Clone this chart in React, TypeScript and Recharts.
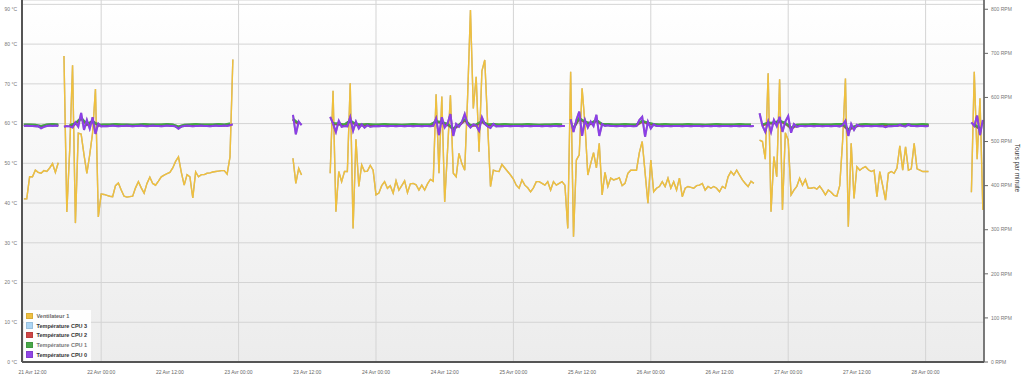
import React from "react";
import { LineChart, Line, XAxis, YAxis, CartesianGrid } from "recharts";

const _ = null;

// samples start 21 Avr 10:30, hours counted from 21 Avr 00:00
const START_HOUR = 10.5;
const FINE_STEP = 0.5; // fan + CPU 0
const COARSE_STEP = 1; // CPU 1..3

const fanRpm = [
  370, 370, 420, 420, 435, 430, 428, 434, 432, 440, 450, 430, 452, _,
  694, 340, 480, 673, 315, 519, 517, 470, 428, 470, 520, 619, 329, 381,
  380, 378, 376, 375, 400, 406, 390, 376, 374, 375, 376, 395, 409, 395, 383, 405, 419, 405, 401, 410,
  420, 424, 427, 430, 440, 455, 465, 430, 401, 425, 420, 372, 431, 420, 425, 425, 428, 429, 431, 432,
  433, 434, 434, 426, 465, 686,
  _, _, _, _, _, _, _, _, _, _, _, _, _, _, _, _, _, _, _, _,
  462, 405, 439, 424,
  _, _, _, _, _, _, _, _, _,
  428, 615, 341, 432, 409, 432, 432, 632, 303, 505, 398, 447, 432, 433, 446, 435, 379, 383, 400, 409,
  394, 400, 383, 411, 390, 400, 411, 384, 404, 405, 402, 390, 401, 390, 404, 414, 410, 607, 428, 602,
  363, 480, 605, 428, 420, 473, 450, 435, 600, 798, 575, 647, 477, 660, 685, 540, 398, 435, 433, 432,
  448, 440, 432, 424, 415, 401, 394, 413, 401, 395, 386, 395, 409, 409, 405, 401, 409, 390, 409, 401,
  405, 409, 401, 303,
  658, 284, 458, 470, 621, 540, 424, 450, 475, 440, 496, 379, 430, 398, 417, 413, 415, 418, 400, 405,
  428, 435, 435, 435, 475, 500, 430, 360, 458, 386, 394, 398, 409, 398, 417, 394, 409, 390, 417, 375,
  394, 398, 396, 394, 400, 401, 405, 390, 398, 394, 398, 394, 386, 398, 394, 420, 432, 424, 435, 424,
  413, 405, 398, 410, 405, _,
  503, 500, 460, 655, 341, 466, 420, 641, 345, 520, 503, 379, 390, 398, 417, 401, 414, 394, 394, 396,
  392, 399, 390, 379, 390, 385, 378, 376, 400, 500, 643, 307, 496, 371, 443, 435, 440, 443, 436, 432,
  435, 375, 432, 400, 367, 428, 432, 428, 440, 490, 435, 488, 435, 438, 496, 438, 435, 432, 432, 432,
  _, _, _, _, _, _, _, _, _, _, _, _, _, _,
  385, 658, 460, 598, 345,
];

const cpu0 = [
  59.4, 59.5, 59.4, 59.4, 59.3, 59.4, 58.8, 59.2, 59.4, 59.5, 59.4, 59.5, 59.4, _,
  59.2, 59.4, 59.3, 59.0, 60.3, 59.2, 62.7, 58.4, 60.9, 58.7, 61.6, 57.4, 60.0, 59.3,
  59.4, 59.3, 59.4, 59.5, 59.4, 59.3, 59.4, 59.4, 59.5, 59.4, 59.3, 59.4, 59.4, 59.5, 59.4, 59.3,
  59.4, 59.5, 59.4, 59.4, 59.3, 59.4, 59.5, 59.4, 59.4, 59.3, 58.7, 59.3, 59.4, 59.5, 59.4, 59.3,
  59.4, 59.4, 59.5, 59.4, 59.4, 59.3, 59.4, 59.5, 59.4, 59.4, 59.5, 59.4, 59.6, 59.8,
  _, _, _, _, _, _, _, _, _, _, _, _, _, _, _, _, _, _, _, _,
  62.2, 57.3, 60.5, 59.6,
  _, _, _, _, _, _, _, _, _,
  61.7, 60.0, 57.9, 60.7, 59.2, 59.4, 59.3, 61.6, 58.2, 60.5, 58.8, 59.8, 59.0, 59.6, 59.2,
  59.3, 59.4, 59.3, 59.4, 59.4, 59.3, 59.4, 59.4, 59.3, 59.4, 59.4, 59.3, 59.4, 59.4, 59.3, 59.4,
  59.4, 59.3, 59.4, 59.4, 59.3, 59.4,
  61.3, 57.1, 61.6, 59.0, 60.0, 62.4, 56.9, 59.9, 59.2, 60.4, 62.4, 59.8, 59.0, 59.8, 59.5, 58.2,
  61.6, 59.9, 59.3, 58.9, 59.9, 59.3,
  59.4, 59.3, 59.4, 59.4, 59.3, 59.4, 59.4, 59.4, 59.3, 59.4, 59.4, 59.3, 59.4, 59.4, 59.4, 59.3,
  59.4, 59.4, 59.3, 59.4, 59.4, 59.3, 59.4, 59.4, _,
  61.1, 57.9, 60.9, 63.0, 56.9, 60.9, 59.0, 60.5, 59.4, 62.2, 56.9, 59.9, 59.4, 59.6, 59.4,
  59.4, 59.3, 59.4, 59.4, 59.3, 59.4, 59.4, 59.3, 59.4,
  60.9, 61.7, 56.7, 60.5, 58.8, 59.8, 59.4,
  59.4, 59.3, 59.4, 59.4, 59.3, 59.4, 59.4, 59.4, 59.3, 59.4, 59.4, 59.3, 59.4, 59.4, 59.4, 59.3,
  59.4, 59.4, 59.3, 59.4, 59.4, 59.3, 59.4, 59.4, 59.4, 59.3, 59.4, 59.4, 59.3, 59.4, 59.4, 59.4,
  59.3, 59.4, _,
  62.6, 59.5, 57.9, 60.5, 57.9, 60.9, 59.4, 61.7, 57.9, 60.5, 61.9, 57.7, 59.9, 59.2, 59.4,
  59.4, 59.3, 59.4, 59.4, 59.3, 59.4, 59.4, 59.3, 59.4, 59.4, 59.3, 59.4, 59.4, 59.3,
  59.6, 60.7, 56.9, 59.9, 58.4, 59.7,
  59.4, 59.3, 59.4, 59.4, 59.3, 59.4, 59.4, 59.3, 59.4, 59.1, 59.4, 59.3, 59.4, 59.4, 59.7, 59.4,
  59.3, 59.8, 59.4, 59.4, 59.3, 59.4, 59.4, 59.3, 59.4,
  _, _, _, _, _, _, _, _, _, _, _, _, _, _,
  60.3, 59.4, 62.0, 57.1, 60.9,
];

const cpu1 = [
  59.8, 59.8, 59.7, 59.4, 59.8, 59.9, 59.8, _,
  59.6, 60.1, 61.5, 59.9, 60.6, 59.7, 59.8,
  59.8, 59.9, 59.8, 59.8, 59.7, 59.8, 59.9, 59.8, 59.8, 59.8, 59.9, 59.8, 59.3, 59.7, 59.8, 59.9,
  59.8, 59.8, 59.8, 59.9, 59.8, 60.0,
  _, _, _, _, _, _, _, _, _, _,
  61.2, 60.0, _, _, _, _, _,
  60.1, 60.0, 59.8, 60.8, 59.9, 59.8, 59.9,
  59.8, 59.8, 59.9, 59.8, 59.8, 59.7, 59.8, 59.9, 59.8, 59.8, 59.8,
  60.6, 60.4, 59.9, 58.8, 59.7, 61.0, 59.6, 59.8, 60.6, 59.8, 59.9,
  59.8, 59.9, 59.8, 59.8, 59.8, 59.9, 59.8, 59.7, 59.8, 59.8, 59.9, 59.8, _,
  59.0, 61.4, 60.5, 60.1, 60.9, 59.9, 59.9,
  59.8, 59.8, 59.9, 59.8, 59.8,
  60.7, 60.2, 59.9,
  59.8, 59.9, 59.8, 59.8, 59.8, 59.9, 59.8, 59.8, 59.7, 59.8, 59.9, 59.8, 59.8, 59.8, 59.9, 59.8, 59.8, _,
  59.8, 60.2, 60.3, 60.7, 60.2, 59.0, 59.7,
  59.8, 59.8, 59.9, 59.8, 59.8, 59.8, 59.9,
  59.9, 58.6, 59.3,
  59.8, 59.9, 59.8, 59.8, 59.9, 59.8, 59.8, 59.8, 59.9, 59.8, 59.8, 59.9, 59.8,
  _, _, _, _, _, _, _,
  59.8, 58.8,
];

const cpu2 = [
  59.6, 59.6, 59.5, 59.2, 59.6, 59.7, 59.6, _,
  59.4, 59.9, 61.3, 59.7, 60.4, 59.5, 59.6,
  59.6, 59.7, 59.6, 59.6, 59.5, 59.6, 59.7, 59.6, 59.6, 59.6, 59.7, 59.6, 59.1, 59.5, 59.6, 59.7,
  59.6, 59.6, 59.6, 59.7, 59.6, 59.8,
  _, _, _, _, _, _, _, _, _, _,
  61.0, 59.8, _, _, _, _, _,
  59.9, 59.8, 59.6, 60.6, 59.7, 59.6, 59.7,
  59.6, 59.6, 59.7, 59.6, 59.6, 59.5, 59.6, 59.7, 59.6, 59.6, 59.6,
  60.4, 60.2, 59.7, 58.6, 59.5, 60.8, 59.4, 59.6, 60.4, 59.6, 59.7,
  59.6, 59.7, 59.6, 59.6, 59.6, 59.7, 59.6, 59.5, 59.6, 59.6, 59.7, 59.6, _,
  58.8, 61.2, 60.3, 59.9, 60.7, 59.7, 59.7,
  59.6, 59.6, 59.7, 59.6, 59.6,
  60.5, 60.0, 59.7,
  59.6, 59.7, 59.6, 59.6, 59.6, 59.7, 59.6, 59.6, 59.5, 59.6, 59.7, 59.6, 59.6, 59.6, 59.7, 59.6, 59.6, _,
  59.6, 60.0, 60.1, 60.5, 60.0, 58.8, 59.5,
  59.6, 59.6, 59.7, 59.6, 59.6, 59.6, 59.7,
  59.7, 58.4, 59.1,
  59.6, 59.7, 59.6, 59.6, 59.7, 59.6, 59.6, 59.6, 59.7, 59.6, 59.6, 59.7, 59.6,
  _, _, _, _, _, _, _,
  59.6, 58.6,
];

const cpu3 = [
  59.5, 59.5, 59.4, 59.1, 59.5, 59.6, 59.5, _,
  59.3, 59.8, 61.2, 59.6, 60.3, 59.4, 59.5,
  59.5, 59.6, 59.5, 59.5, 59.4, 59.5, 59.6, 59.5, 59.5, 59.5, 59.6, 59.5, 59.0, 59.4, 59.5, 59.6,
  59.5, 59.5, 59.5, 59.6, 59.5, 59.7,
  _, _, _, _, _, _, _, _, _, _,
  60.9, 59.7, _, _, _, _, _,
  59.8, 59.7, 59.5, 60.5, 59.6, 59.5, 59.6,
  59.5, 59.5, 59.6, 59.5, 59.5, 59.4, 59.5, 59.6, 59.5, 59.5, 59.5,
  60.3, 60.1, 59.6, 58.5, 59.4, 60.7, 59.3, 59.5, 60.3, 59.5, 59.6,
  59.5, 59.6, 59.5, 59.5, 59.5, 59.6, 59.5, 59.4, 59.5, 59.5, 59.6, 59.5, _,
  58.7, 61.1, 60.2, 59.8, 60.6, 59.6, 59.6,
  59.5, 59.5, 59.6, 59.5, 59.5,
  60.4, 59.9, 59.6,
  59.5, 59.6, 59.5, 59.5, 59.5, 59.6, 59.5, 59.5, 59.4, 59.5, 59.6, 59.5, 59.5, 59.5, 59.6, 59.5, 59.5, _,
  59.5, 59.9, 60.0, 60.4, 59.9, 58.7, 59.4,
  59.5, 59.5, 59.6, 59.5, 59.5, 59.5, 59.6,
  59.6, 58.3, 59.0,
  59.5, 59.6, 59.5, 59.5, 59.6, 59.5, 59.5, 59.5, 59.6, 59.5, 59.5, 59.6, 59.5,
  _, _, _, _, _, _, _,
  59.5, 58.5,
];

const xTicks = [12, 24, 36, 48, 60, 72, 84, 96, 108, 120, 132, 144, 156, 168];
const tempTicks = [0, 10, 20, 30, 40, 50, 60, 70, 80, 90];
const rpmTicks = [0, 100, 200, 300, 400, 500, 600, 700, 800];

const legendItems = [
  { name: "Ventilateur 1", color: "#f0c040", text: "#666" },
  { name: "Température CPU 3", color: "#acd6f6", text: "#333" },
  { name: "Température CPU 2", color: "#cf4646", text: "#333" },
  { name: "Température CPU 1", color: "#48a848", text: "#777" },
  { name: "Température CPU 0", color: "#9146e6", text: "#333" },
];

const fineData = fanRpm.map((v, i) => ({
  t: START_HOUR + i * FINE_STEP,
  fan: v,
  cpu0: cpu0[i],
}));
const coarseData = cpu1.map((v, i) => ({
  t: START_HOUR + i * COARSE_STEP,
  cpu1: v,
  cpu2: cpu2[i],
  cpu3: cpu3[i],
}));

const FONT = '"Liberation Sans", Arial, sans-serif';

function fmtDate(h: number) {
  const day = 21 + Math.floor(h / 24);
  return `${day} Avr ${h % 24 === 0 ? "00:00" : "12:00"}`;
}

function TempTick({ x, y, payload }: any) {
  return (
    <text x={x} y={y} dy="0.35em" textAnchor="end" fontSize={5} fill="#777" fontFamily={FONT}>
      {payload.value} °C
    </text>
  );
}

function RpmTick({ x, y, payload }: any) {
  return (
    <text x={x} y={y} dy="0.35em" textAnchor="start" fontSize={5} fill="#777" fontFamily={FONT}>
      {payload.value} RPM
    </text>
  );
}

export default function App() {
  return (
    <div style={{ position: "absolute", left: 0, top: 0, width: 1024, height: 383, fontFamily: FONT, background: "#fff" }}>
      <style>{`.recharts-line-curve { filter: drop-shadow(0.8px 0.9px 0.7px rgba(0,0,0,0.3)); }`}</style>
      <div
        style={{
          position: "absolute", left: 22, top: 0, width: 962, height: 362,
          background: "linear-gradient(to bottom, #ffffff 0%, #f4f4f4 60%, #ececec 100%)",
        }}
      />
      <div style={{ position: "absolute", left: 0, top: 0 }}>
        <LineChart width={1024} height={383} data={fineData} margin={{ top: 0, right: 0, bottom: 0, left: 0 }}>
          <CartesianGrid yAxisId="left" stroke="#d4d4d4" strokeWidth={1} />
          <XAxis
            dataKey="t" type="number" domain={[10.17, 178.2]} allowDataOverflow ticks={xTicks}
            tickFormatter={fmtDate} height={21} tickSize={0} tickMargin={8} tickLine={false}
            axisLine={{ stroke: "#555", strokeWidth: 2 }}
            tick={{ fill: "#666", fontSize: 5, fontFamily: FONT }}
          />
          <YAxis
            yAxisId="left" domain={[0, 91.1]} ticks={tempTicks}
            width={22} tickSize={0} tickMargin={5} tickLine={false}
            axisLine={{ stroke: "#555", strokeWidth: 2 }}
            tick={<TempTick />}
          />
          <YAxis
            yAxisId="right" orientation="right" domain={[0, 821]} ticks={rpmTicks}
            width={40} tickSize={4} tickMargin={3}
            tickLine={{ stroke: "#666" }} axisLine={{ stroke: "#555", strokeWidth: 1.5 }}
            tick={<RpmTick />}
          />
          <Line yAxisId="right" dataKey="fan" stroke="#f0c03c" strokeWidth={1.4} dot={false} isAnimationActive={false} />
          <Line yAxisId="left" data={coarseData} dataKey="cpu3" stroke="#acd6f6" strokeWidth={2} dot={false} isAnimationActive={false} />
          <Line yAxisId="left" data={coarseData} dataKey="cpu2" stroke="#cf4646" strokeWidth={2} dot={false} isAnimationActive={false} />
          <Line yAxisId="left" data={coarseData} dataKey="cpu1" stroke="#45a845" strokeWidth={2} dot={false} isAnimationActive={false} />
          <Line yAxisId="left" dataKey="cpu0" stroke="#8c3fe6" strokeWidth={2} dot={false} isAnimationActive={false} />
        </LineChart>
      </div>
      <div
        style={{
          position: "absolute", left: 1017, top: 167.5, transform: "translate(-50%, -50%) rotate(90deg)",
          fontSize: 6.5, color: "#333", whiteSpace: "nowrap",
        }}
      >
        Tours par minute
      </div>
      <div
        style={{
          position: "absolute", left: 24, top: 310, width: 67, height: 51,
          background: "rgba(255,255,255,0.92)", padding: "1px 0 0 2px", boxSizing: "border-box",
        }}
      >
        {legendItems.map((it) => (
          <div key={it.name} style={{ display: "flex", alignItems: "center", height: 9.7 }}>
            <span style={{ width: 6.5, height: 6.5, background: it.color, marginRight: 4, border: "0.5px solid rgba(0,0,0,0.1)", boxSizing: "border-box" }} />
            <span style={{ fontSize: 5.5, fontWeight: "bold", color: it.text, whiteSpace: "nowrap" }}>{it.name}</span>
          </div>
        ))}
      </div>
    </div>
  );
}
